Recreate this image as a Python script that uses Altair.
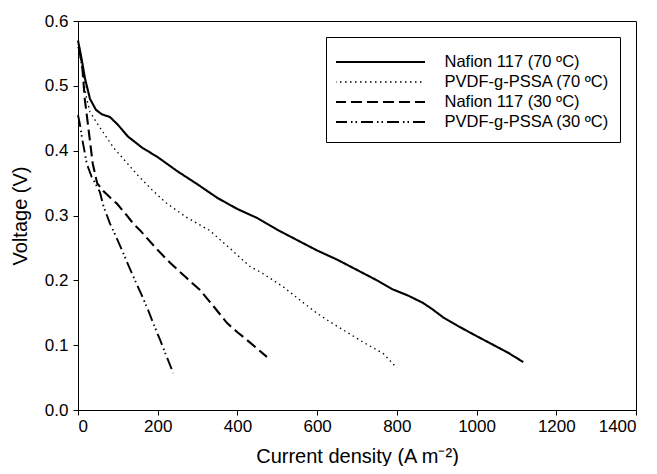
import altair as alt
import pandas as pd

series_names = ["Nafion 117 (70 ºC)", "PVDF-g-PSSA (70 ºC)", "Nafion 117 (30 ºC)", "PVDF-g-PSSA (30 ºC)"]

n70_x = [0, 8, 18, 30, 45, 60, 80, 100, 125, 160, 200, 250, 300, 350, 400, 450, 500, 550, 600, 650, 700, 750, 790, 830, 866, 890, 916, 958, 1000, 1034, 1080, 1117]
n70_y = [0.570, 0.545, 0.510, 0.480, 0.463, 0.456, 0.452, 0.440, 0.422, 0.405, 0.390, 0.368, 0.348, 0.327, 0.310, 0.296, 0.278, 0.262, 0.246, 0.232, 0.216, 0.200, 0.186, 0.176, 0.165, 0.155, 0.143, 0.128, 0.114, 0.103, 0.088, 0.074]

p70_x = [0, 5, 10, 20, 30, 45, 60, 90, 120, 150, 185, 220, 270, 330, 380, 430, 460, 515, 560, 600, 640, 680, 720, 766, 800]
p70_y = [0.560, 0.545, 0.528, 0.485, 0.460, 0.445, 0.431, 0.404, 0.383, 0.362, 0.340, 0.320, 0.298, 0.277, 0.250, 0.222, 0.212, 0.190, 0.168, 0.149, 0.133, 0.118, 0.103, 0.087, 0.065]

n30_x = [3, 10, 17, 24, 30, 37, 48, 63, 80, 98, 120, 138, 156, 195, 231, 270, 306, 340, 374, 400, 424, 474]
n30_y = [0.555, 0.535, 0.480, 0.445, 0.415, 0.380, 0.350, 0.338, 0.328, 0.318, 0.302, 0.288, 0.277, 0.250, 0.227, 0.205, 0.185, 0.160, 0.134, 0.120, 0.108, 0.082]

p30_x = [0, 5, 10, 16, 22, 34, 45, 55, 64, 80, 95, 110, 126, 143, 160, 176, 190, 206, 222, 239]
p30_y = [0.455, 0.440, 0.420, 0.400, 0.380, 0.360, 0.348, 0.336, 0.314, 0.288, 0.268, 0.247, 0.224, 0.200, 0.177, 0.154, 0.132, 0.108, 0.083, 0.057]

x_ticks = [0, 200, 400, 600, 800, 1000, 1200, 1400]
y_ticks = [0.0, 0.1, 0.2, 0.3, 0.4, 0.5, 0.6]

dashes = [[1, 0], [1.5, 3.5], [11, 5], [12, 4, 1.5, 3, 1.5, 4]]
widths = [2.1, 1.3, 2.1, 1.9]

rows = []
for name, xs, ys in zip(series_names, [n70_x, p70_x, n30_x, p30_x], [n70_y, p70_y, n30_y, p30_y]):
    for xv, yv in zip(xs, ys):
        rows.append({"series": name, "j": xv, "v": yv})
df = pd.DataFrame(rows)

font = "Liberation Sans"

legend_kw = dict(
    title=" ", titleFontSize=4, titlePadding=1.25,
    orient="none", legendX=248, legendY=16,
    symbolType="stroke", symbolSize=8100, symbolStrokeColor="black",
    clipHeight=19.5, rowPadding=0,
    labelFont=font, labelFontSize=16.5, labelColor="black", labelOffset=18, labelLimit=0,
    symbolOffset=-2.5,
    strokeColor="black", padding=10, fillColor="white",
)

chart = alt.Chart(df).mark_line(color="black", strokeCap="butt").encode(
    x=alt.X("j:Q", scale=alt.Scale(domain=[0, 1400], nice=False),
            axis=alt.Axis(values=x_ticks, format="d", title="Current density (A m⁻²)", titlePadding=12)),
    y=alt.Y("v:Q", scale=alt.Scale(domain=[0, 0.6], nice=False),
            axis=alt.Axis(values=y_ticks, format=".1f", title="Voltage (V)", titlePadding=14, labelPadding=5)),
    strokeDash=alt.StrokeDash("series:N", scale=alt.Scale(domain=series_names, range=dashes),
                              legend=alt.Legend(**legend_kw)),
    strokeWidth=alt.StrokeWidth("series:N", scale=alt.Scale(type="ordinal", domain=series_names, range=widths),
                                legend=alt.Legend(**legend_kw)),
).properties(
    width=558, height=389,
    autosize=alt.AutoSizeParams(type="none"),
    padding={"left": 70, "top": 13, "right": 10, "bottom": 56},
).configure_view(
    stroke="black", strokeWidth=1
).configure_axis(
    grid=False, labelFont=font, labelFontSize=17, labelColor="black",
    tickColor="black", tickSize=5, domainColor="black", labelPadding=3,
    titleFont=font, titleFontSize=20, titleFontWeight="normal", titleColor="black",
)

chart.save("out.html", embed_options={"renderer": "svg", "actions": False})
